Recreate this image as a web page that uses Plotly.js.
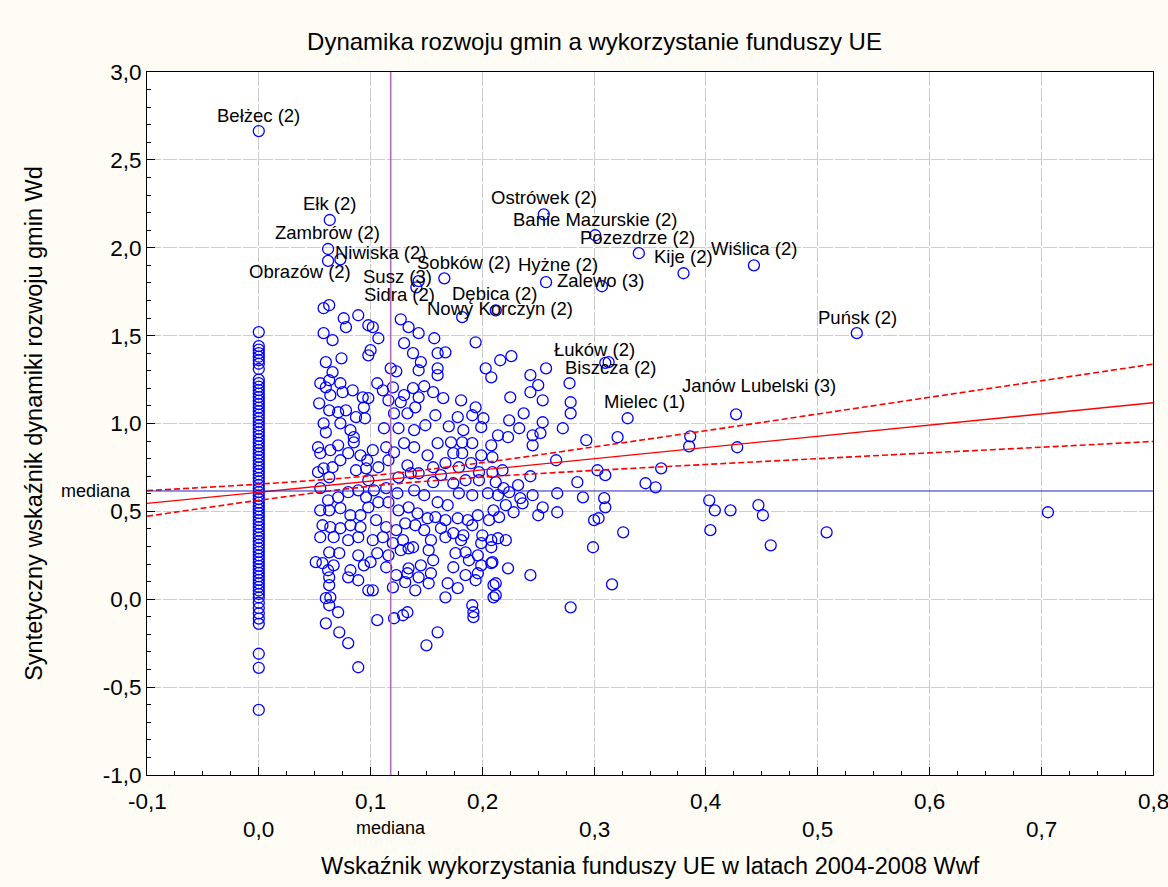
<!DOCTYPE html>
<html><head><meta charset="utf-8">
<script src="https://cdn.plot.ly/plotly-3.0.1.min.js"></script>
<style>html,body{margin:0;padding:0;background:#fefcf4;} #chart{width:1168px;height:887px;}</style>
</head><body><div id="chart"></div>
<script>
// ---- data ----
const zeroColY = [1.52,1.44,1.42,1.40,1.38,1.36,1.34,1.31,1.25,1.23,1.21,1.19,1.17,1.15,1.13,1.11,1.09,1.07,1.05,1.03,1.01,0.99,0.97,0.95,0.93,0.91,0.89,0.87,0.85,0.83,0.81,0.79,0.77,0.75,0.73,0.71,0.69,0.67,0.65,0.63,0.61,0.59,0.57,0.55,0.53,0.51,0.49,0.47,0.45,0.43,0.41,0.39,0.37,0.35,0.33,0.31,0.29,0.27,0.25,0.23,0.21,0.19,0.17,0.15,0.13,0.11,0.09,0.07,0.05,0.03,0.01,-0.02,-0.05,-0.08,-0.11,-0.14,-0.31,-0.39,-0.63];

const cloudX = [
0.058,0.063,0.076,0.078,0.089,0.098,0.058,0.066,0.098,0.060,0.066,0.074,0.055,0.060,0.063,0.073,0.075,0.064,0.084,0.093,0.054,0.063,0.071,0.078,0.087,0.094,0.095,0.058,0.060,0.073,0.082,0.085,
0.127,0.134,0.143,0.157,0.194,0.102,0.107,0.100,0.130,0.138,0.145,0.143,0.160,0.167,0.160,0.160,0.118,0.123,0.203,0.208,0.106,0.111,0.120,0.138,0.148,0.156,0.130,0.143,0.116,0.127,0.140,0.165,0.181,0.098,0.121,0.133,0.158,0.178,0.191,0.194,0.201,0.112,0.125,0.139,0.149,0.170,0.183,0.199,
0.216,0.226,0.243,0.250,0.243,0.257,0.225,0.254,0.278,0.279,0.279,0.237,0.224,0.254,0.233,0.214,0.223,0.245,0.252,0.272,0.293,0.321,
0.102,0.114,0.121,0.130,0.139,0.151,0.160,0.172,0.182,0.191,0.199,0.208,0.097,0.107,0.116,0.133,0.143,0.156,0.167,0.179,0.190,0.197,0.182,0.174,0.098,0.125,0.136,0.156,0.163,0.174,0.185,0.197,0.209,0.103,0.114,0.124,0.139,0.148,0.160,0.169,0.179,0.191,0.205,0.098,0.107,0.116,0.125,0.134,0.142,0.151,0.158,0.167,0.178,0.187,0.196,0.206,0.105,0.114,0.123,0.131,0.140,0.148,0.163,0.174,0.183,0.191,0.200,0.102,0.111,0.120,0.129,0.138,0.154,0.167,0.181,0.199,0.208,0.106,0.116,0.127,0.134,0.152,0.176,0.185,0.196,0.100,0.114,0.134,0.145,0.156,0.174,0.188,0.199,0.208,0.123,0.133,0.143,0.154,0.185,0.196,
0.102,0.120,0.131,0.140,0.152,0.169,0.178,0.167,0.194,0.210,0.210,0.106,0.121,0.129,0.133,0.160,0.150,0.191,0.192,0.192,
0.053,0.055,0.064,0.071,0.080,0.087,0.085,0.058,0.066,0.073,0.091,0.096,0.053,0.063,0.055,0.062,0.071,0.080,0.089,0.096,0.055,0.063,0.073,0.082,0.091,0.057,0.064,0.073,0.082,0.091,0.055,0.067,0.080,0.089,0.063,0.072,0.089,0.057,0.067,0.051,0.062,0.082,0.094,0.063,0.080,
0.063,0.089,0.098,0.060,0.064,0.063,0.071,0.060,0.072,0.080,0.089,
0.245,0.209,0.218,0.266,0.243,0.285,0.303,0.310,0.212,0.232,0.219,0.214,0.224,0.234,0.245,0.267,0.290,0.309,0.310,0.210,0.221,0.228,0.236,0.250,0.254,0.267,0.215,0.300,0.304,0.326,0.214,0.221,0.208,0.299,0.209,0.223,0.243,0.316,0.212,0.212,0.279,
0.360,0.346,0.355,0.385,0.386,0.428,0.403,0.408,0.422,0.404,0.447,0.451,0.458,0.508,0.706
];
const cloudY = [
1.656,1.673,1.599,1.548,1.616,1.559,1.514,1.474,1.388,1.349,1.292,1.371,1.229,1.206,1.246,1.229,1.178,1.161,1.189,1.149,1.115,1.075,1.064,1.075,1.036,1.092,1.030,1.001,0.950,1.001,0.962,0.922,
1.593,1.548,1.514,1.485,1.462,1.548,1.485,1.417,1.457,1.400,1.349,1.303,1.400,1.405,1.314,1.275,1.314,1.297,1.314,1.263,1.229,1.189,1.206,1.201,1.212,1.178,1.161,1.149,1.132,1.121,1.092,1.144,1.132,1.144,1.058,1.058,1.047,1.036,1.047,1.092,1.030,0.973,0.973,0.962,0.990,0.984,0.962,0.979,
1.360,1.383,1.275,1.218,1.178,1.314,1.149,1.132,1.229,1.121,1.058,1.058,1.018,1.007,0.973,0.933,0.922,0.933,0.945,0.973,0.905,0.922,
0.848,0.865,0.836,0.888,0.865,0.819,0.888,0.893,0.893,0.888,0.819,0.876,0.791,0.751,0.791,0.762,0.717,0.751,0.774,0.751,0.774,0.723,0.831,0.831,0.677,0.694,0.717,0.666,0.706,0.660,0.677,0.677,0.723,0.620,0.632,0.603,0.620,0.592,0.552,0.535,0.603,0.592,0.603,0.523,0.552,0.552,0.506,0.523,0.489,0.461,0.467,0.450,0.461,0.450,0.478,0.450,0.450,0.410,0.393,0.432,0.421,0.393,0.404,0.376,0.364,0.421,0.364,0.336,0.353,0.319,0.336,0.296,0.336,0.353,0.336,0.319,0.336,0.262,0.250,0.279,0.290,0.279,0.262,0.267,0.250,0.211,0.182,0.176,0.193,0.222,0.182,0.222,0.193,0.205,0.137,0.148,0.125,0.148,0.137,0.148,
0.051,0.068,0.097,0.051,0.091,0.091,0.063,0.011,0.108,0.080,0.011,-0.119,-0.108,-0.091,-0.074,-0.188,-0.262,-0.034,-0.074,-0.102,
0.865,0.831,0.848,0.876,0.831,0.734,0.893,0.745,0.751,0.791,0.819,0.745,0.723,0.694,0.632,0.563,0.580,0.609,0.620,0.580,0.506,0.506,0.518,0.478,0.478,0.421,0.410,0.404,0.421,0.410,0.353,0.353,0.336,0.353,0.267,0.262,0.250,0.205,0.193,0.211,0.165,0.165,0.193,0.125,0.125,
0.080,0.108,0.051,0.006,0.011,-0.034,-0.074,-0.137,-0.188,-0.250,-0.387,
0.876,0.808,0.734,0.791,0.700,0.666,0.734,0.706,0.666,0.649,0.632,0.592,0.609,0.575,0.592,0.603,0.580,0.575,0.523,0.506,0.535,0.495,0.546,0.478,0.523,0.495,0.467,0.450,0.461,0.381,0.347,0.336,0.296,0.296,0.211,0.176,0.137,0.085,0.091,0.023,-0.046,
0.745,0.660,0.637,0.870,0.927,0.865,0.563,0.506,0.506,0.393,0.535,0.478,0.307,0.381,0.495
];

const labelNames = ["Bełżec (2)","Ełk (2)","Zambrów (2)","Niwiska (2)","Obrazów (2)","Susz (3)","Sidra (2)","Sobków (2)","Dębica (2)","Nowy Korczyn (2)","Ostrówek (2)","Banie Mazurskie (2)","Pozezdrze (2)","Kije (2)","Hyżne (2)","Zalewo (3)","Wiślica (2)","Puńsk (2)","Łuków (2)","Biszcza (2)","Mielec (1)","Janów Lubelski (3)"];
const labelX = [0.000,0.0635,0.062,0.073,0.062,0.143,0.141,0.166,0.212,0.182,0.255,0.301,0.340,0.380,0.257,0.307,0.443,0.535,0.313,0.310,0.330,0.427];
const labelY = [2.664,2.158,1.993,1.934,1.925,1.810,1.775,1.826,1.644,1.605,2.190,2.071,1.969,1.855,1.804,1.781,1.900,1.514,1.349,1.345,1.030,1.052];
// label placement offsets in px (text centre relative to point)
const labelDx = [0,0,-1,40,-28,-21,-17,20,-1,38,0,0,-1,0,12,-1,0,1,-14,6,17,23];
const labelDy = [16,16,16,7,-11,5,-7,16,17,9,17,16,16,17,18,6,17,16,13,-5,17,29];

const regX = [-0.1, 0.8];
const regY = [0.545, 1.118];
const bandX = [-0.1,0.0,0.1,0.2,0.3,0.4,0.5,0.6,0.7,0.8];
const bandUpper = [0.618,0.655,0.703,0.777,0.867,0.959,1.054,1.149,1.243,1.338];
const bandLower = [0.472,0.563,0.643,0.695,0.733,0.767,0.800,0.833,0.865,0.898];

const medianX = 0.118;
const medianY = 0.616;

const xTickTopVals = [-0.1,0.1,0.2,0.4,0.6,0.8];
const xTickTopText = ["-0,1","0,1","0,2","0,4","0,6","0,8"];
const xTickBotVals = [0.0,0.3,0.5,0.7];
const xTickBotText = ["0,0","0,3","0,5","0,7"];
const yTickVals = [-1.0,-0.5,0.0,0.5,1.0,1.5,2.0,2.5,3.0];
const yTickText = ["-1,0","-0,5","0,0","0,5","1,0","1,5","2,0","2,5","3,0"];

// ---- chart ----
const FONT = "'Liberation Sans', Arial, sans-serif";
const allX = cloudX.concat(zeroColY.map(() => 0), labelX);
const allY = cloudY.concat(zeroColY, labelY);

const marker = {symbol:'circle-open', size:11, color:'#0000ff', line:{width:1.3, color:'#0000ff'}};
const traces = [
  {type:'scatter', mode:'markers', x:allX, y:allY, marker:marker, hoverinfo:'skip', cliponaxis:false},
  {type:'scatter', mode:'lines', x:regX, y:regY, line:{color:'#ff0000', width:1.3}, hoverinfo:'skip'},
  {type:'scatter', mode:'lines', x:bandX, y:bandUpper, line:{color:'#ff0000', width:1.6, dash:'6px,3px', shape:'spline'}, hoverinfo:'skip'},
  {type:'scatter', mode:'lines', x:bandX, y:bandLower, line:{color:'#ff0000', width:1.6, dash:'6px,3px', shape:'spline'}, hoverinfo:'skip'}
];

const TICK = 22.5;
const ann = [];
labelNames.forEach((n,i) => ann.push({x:labelX[i], y:labelY[i], xref:'x', yref:'y', text:n, showarrow:false,
  xanchor:'center', yanchor:'middle', xshift:labelDx[i], yshift:labelDy[i], font:{family:FONT, size:18.5, color:'#000'}}));
xTickTopVals.forEach((v,i) => ann.push({x:v, y:-0.038, xref:'x', yref:'paper', text:xTickTopText[i], showarrow:false,
  xanchor:'center', yanchor:'middle', font:{family:FONT, size:TICK, color:'#000'}}));
xTickBotVals.forEach((v,i) => ann.push({x:v, y:-0.077, xref:'x', yref:'paper', text:xTickBotText[i], showarrow:false,
  xanchor:'center', yanchor:'middle', font:{family:FONT, size:TICK, color:'#000'}}));
ann.push({x:medianX, y:-0.075, xref:'x', yref:'paper', text:'mediana', showarrow:false, xanchor:'center', yanchor:'middle', font:{family:FONT, size:18, color:'#000'}});
ann.push({x:-0.014, y:medianY, xref:'paper', yref:'y', text:'mediana', showarrow:false, xanchor:'right', yanchor:'middle', font:{family:FONT, size:18, color:'#000'}});
ann.push({x:-0.113, y:0.5, xref:'paper', yref:'paper', text:'Syntetyczny wskaźnik dynamiki rozwoju gmin Wd', textangle:-90, showarrow:false, xanchor:'center', yanchor:'middle', font:{family:FONT, size:23.5, color:'#000'}});
ann.push({x:0.5, y:-0.129, xref:'paper', yref:'paper', text:'Wskaźnik wykorzystania funduszy UE w latach 2004-2008 Wwf', showarrow:false, xanchor:'center', yanchor:'middle', font:{family:FONT, size:23.5, color:'#000'}});

const layout = {
  width:1168, height:887,
  margin:{l:147, r:15, t:72, b:112},
  paper_bgcolor:'#fefcf4', plot_bgcolor:'#ffffff',
  showlegend:false,
  font:{family:FONT, color:'#000'},
  title:{text:'Dynamika rozwoju gmin a wykorzystanie funduszy UE', x:0.509, xref:'container', xanchor:'center', y:0.953, yref:'container', yanchor:'middle', font:{family:FONT, size:24, color:'#000'}},
  xaxis:{range:[-0.1,0.8], showticklabels:false, tickmode:'linear', tick0:-0.1, dtick:0.1, ticks:'inside', ticklen:8, tickcolor:'#000',
    minor:{dtick:0.025, tick0:0, ticks:'inside', ticklen:4, tickcolor:'#000', showgrid:false},
    showgrid:true, gridcolor:'#cccccc', gridwidth:1, griddash:'14px,2px', zeroline:false,
    showline:true, linecolor:'#000', linewidth:1, mirror:true},
  yaxis:{range:[-1,3], tickmode:'array', tickvals:yTickVals, ticktext:yTickText, ticks:'inside', ticklen:8, tickcolor:'#000',
    ticklabelstandoff:0, tickfont:{family:FONT, size:TICK, color:'#000'},
    minor:{dtick:0.1, tick0:0, ticks:'inside', ticklen:4, tickcolor:'#000', showgrid:false},
    showgrid:true, gridcolor:'#cccccc', gridwidth:1, griddash:'14px,2px', zeroline:false,
    showline:true, linecolor:'#000', linewidth:1, mirror:true},
  shapes:[
    {type:'line', xref:'x', yref:'paper', x0:medianX, x1:medianX, y0:0, y1:1, line:{color:'#b06cb8', width:1.6}, layer:'above'},
    {type:'line', xref:'paper', yref:'y', x0:0, x1:1, y0:medianY, y1:medianY, line:{color:'#2424c4', width:1}, layer:'above'}
  ],
  annotations:ann
};

Plotly.newPlot('chart', traces, layout, {displayModeBar:false, staticPlot:true});
</script></body></html>
